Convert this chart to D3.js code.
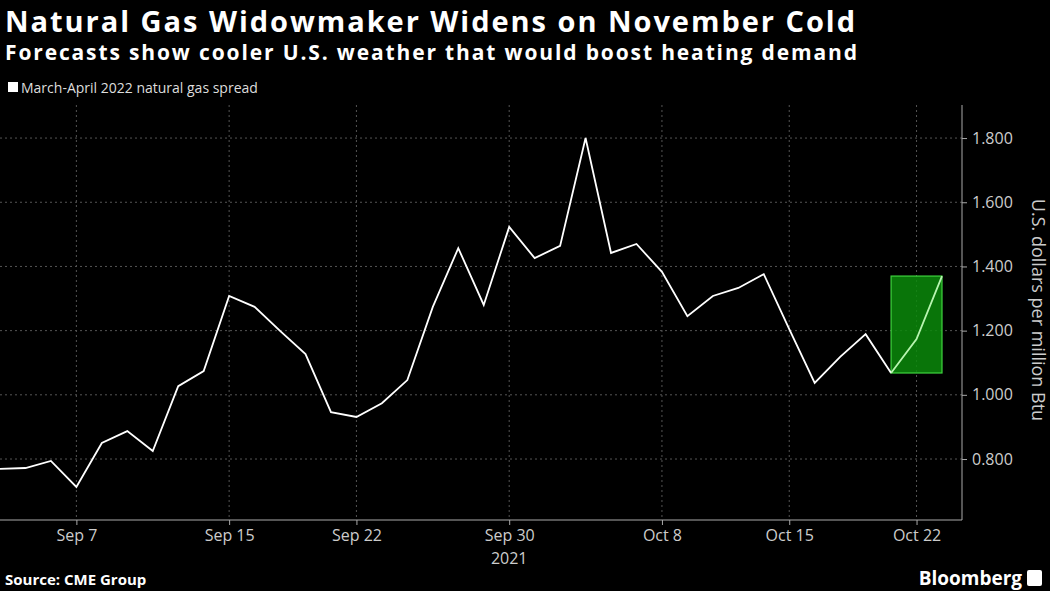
<!DOCTYPE html>
<html><head><meta charset="utf-8">
<script src="https://cdn.jsdelivr.net/npm/d3@7"></script>
<style>body{margin:0;background:#000}text{font-family:"Open Sans","Noto Sans",sans-serif}</style>
</head><body><svg id="c" width="1050" height="591"></svg>
<script>
const dates=["Sep 1","Sep 2","Sep 3","Sep 7","Sep 8","Sep 9","Sep 10","Sep 13","Sep 14","Sep 15","Sep 16","Sep 17","Sep 20","Sep 21","Sep 22","Sep 23","Sep 24","Sep 27","Sep 28","Sep 29","Sep 30","Oct 1","Oct 4","Oct 5","Oct 6","Oct 7","Oct 8","Oct 11","Oct 12","Oct 13","Oct 14","Oct 15","Oct 18","Oct 19","Oct 20","Oct 21","Oct 22","Oct 25"];
const values=[0.769,0.772,0.794,0.713,0.850,0.887,0.825,1.027,1.074,1.308,1.274,1.199,1.127,0.946,0.931,0.974,1.046,1.274,1.457,1.280,1.523,1.426,1.464,1.800,1.442,1.470,1.383,1.245,1.308,1.333,1.376,1.205,1.037,1.118,1.189,1.068,1.174,1.370];
const xTicks=["Sep 7","Sep 15","Sep 22","Sep 30","Oct 8","Oct 15","Oct 22"];
const yTicks=[0.8,1.0,1.2,1.4,1.6,1.8];
const highlightStart="Oct 21";

const svg=d3.select("#c");
svg.append("rect").attr("width",1050).attr("height",591).attr("fill","#000");
const x=d3.scalePoint().domain(dates).range([0,942]);
const y=d3.scaleLinear().domain([0.61,1.903]).range([520,105]);
const g=svg.append("g");
g.selectAll(".vg").data(xTicks).join("line").attr("x1",d=>x(d)).attr("x2",d=>x(d)).attr("y1",105).attr("y2",520)
 .attr("stroke","#555").attr("stroke-dasharray","2,3").attr("stroke-width",1);
g.selectAll(".hg").data(yTicks).join("line").attr("x1",0).attr("x2",962).attr("y1",d=>y(d)).attr("y2",d=>y(d))
 .attr("stroke","#555").attr("stroke-dasharray","2,3").attr("stroke-width",1);
const xa=svg.append("g").attr("transform","translate(0,520)").call(d3.axisBottom(x).tickValues(xTicks).tickSize(5).tickSizeOuter(0));
xa.select(".domain").attr("d","M0,0H962").attr("stroke","#aaa");
xa.selectAll("line").attr("stroke","#aaa");
xa.selectAll("text").attr("fill","#ccc").attr("font-size",16).attr("y",7).attr("dy","0.9em");
const ya=svg.append("g").attr("transform","translate(962,0)").call(d3.axisRight(y).tickValues(yTicks).tickFormat(d3.format(".3f")).tickSize(5).tickSizeOuter(0));
ya.select(".domain").attr("d","M0,105V520").attr("stroke","#aaa");
ya.selectAll("line").attr("stroke","#aaa");
ya.selectAll("text").attr("fill","#ccc").attr("font-size",16).attr("x",10);
svg.append("text").attr("x",x("Sep 30")).attr("y",564).attr("text-anchor","middle").attr("fill","#ccc").attr("font-size",16).text("2021");
svg.append("text").attr("transform","translate(1032,310) rotate(90)").attr("text-anchor","middle").attr("fill","#ccc").attr("font-size",18).text("U.S. dollars per million Btu");
const hi=dates.indexOf(highlightStart);
const hv=values.slice(hi);
svg.append("rect").attr("x",x(highlightStart)).attr("width",x(dates[dates.length-1])-x(highlightStart))
 .attr("y",y(d3.max(hv))).attr("height",y(d3.min(hv))-y(d3.max(hv)))
 .attr("fill","#0a8a0a").attr("fill-opacity",0.85).attr("stroke","#3ed43e").attr("stroke-width",1.2);
const line=d3.line().x((d,i)=>x(dates[i])).y(d=>y(d));
svg.append("path").attr("d",line(values.slice(0,hi+1))).attr("fill","none").attr("stroke","#fff").attr("stroke-width",1.8);
svg.append("path").attr("d",d3.line().x((d,i)=>x(dates[hi+i])).y(d=>y(d))(hv)).attr("fill","none").attr("stroke","#b8f5b0").attr("stroke-width",1.8);
svg.append("text").attr("x",5).attr("y",32).attr("fill","#fff").attr("font-size",29).attr("font-weight","bold").attr("textLength",850).text("Natural Gas Widowmaker Widens on November Cold");
svg.append("text").attr("x",5).attr("y",60).attr("fill","#fff").attr("font-size",21).attr("font-weight","bold").attr("textLength",852).text("Forecasts show cooler U.S. weather that would boost heating demand");
svg.append("rect").attr("x",8).attr("y",82).attr("width",10).attr("height",10).attr("fill","#fff");
svg.append("text").attr("x",21).attr("y",93).attr("fill","#ddd").attr("font-size",14).text("March-April 2022 natural gas spread");
svg.append("text").attr("x",5).attr("y",585).attr("fill","#fff").attr("font-size",15).attr("font-weight","bold").text("Source: CME Group");
svg.append("text").attr("x",1022).attr("y",585).attr("text-anchor","end").attr("fill","#fff").attr("font-size",19).attr("font-weight","bold").text("Bloomberg");
svg.append("rect").attr("x",1027).attr("y",570).attr("width",15).attr("height",16).attr("rx",2).attr("fill","#fff");
</script></body></html>
